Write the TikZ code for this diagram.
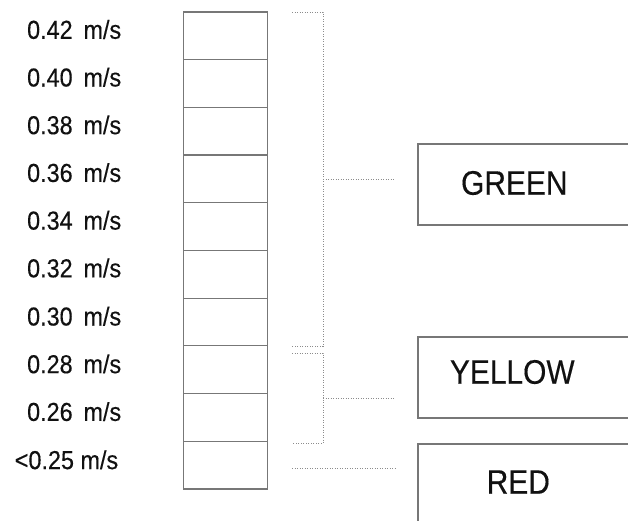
\documentclass[tikz,border=0pt]{standalone}
\usepackage{fontspec}
\setmainfont{Liberation Sans}
\newfontfamily\speedfont[FakeStretch=0.9,FakeBold=0.3]{Liberation Sans}
\newfontfamily\tagfont[FakeStretch=0.88,FakeBold=0.3]{Liberation Sans}
\usepackage{xcolor}
\usepackage{tikz}
\usetikzlibrary{positioning,calc}
\definecolor{bkink}{HTML}{111111}
\definecolor{bkline}{HTML}{777777}
\definecolor{bkdot}{HTML}{8C8C8C}
\tikzset{
  cell/.style={rectangle,draw=bkline,line width=1.2pt,fill=white,
               minimum width=84pt,minimum height=47.7pt,inner sep=0pt},
  speed/.style={anchor=base east,inner sep=0pt,text=bkink,
                font=\speedfont\fontsize{26}{30}\selectfont},
  lamp/.style={rectangle,draw=bkline,line width=1.4pt,fill=white,
               minimum width=260pt,minimum height=81pt,inner sep=0pt},
  tag/.style={inner sep=0pt,text=bkink,font=\tagfont\fontsize{34}{40}\selectfont},
  bracket/.style={draw=bkdot,line width=1pt,dash pattern=on 1pt off 1.5pt},
}

\begin{document}
\begin{tikzpicture}[x=1pt,y=-1pt]
  \clip (0,0) rectangle (628,520);
  \fill[white] (0,0) rectangle (628,520);
  % speed column
  \node[cell] (c1) at (225.5,35.8){};
  \node[cell] (c2) at (225.5,83.5){};
  \node[cell] (c3) at (225.5,131.2){};
  \node[cell] (c4) at (225.5,178.9){};
  \node[cell] (c5) at (225.5,226.6){};
  \node[cell] (c6) at (225.5,274.3){};
  \node[cell] (c7) at (225.5,322.0){};
  \node[cell] (c8) at (225.5,369.7){};
  \node[cell] (c9) at (225.5,417.4){};
  \node[cell] (c10) at (225.5,465.1){};
  \node[speed] at ([xshift=-61.5pt,yshift=-3pt]c1.west){0.42\,~m/s};
  \node[speed] at ([xshift=-61.5pt,yshift=-3pt]c2.west){0.40\,~m/s};
  \node[speed] at ([xshift=-61.5pt,yshift=-3pt]c3.west){0.38\,~m/s};
  \node[speed] at ([xshift=-61.5pt,yshift=-3pt]c4.west){0.36\,~m/s};
  \node[speed] at ([xshift=-61.5pt,yshift=-3pt]c5.west){0.34\,~m/s};
  \node[speed] at ([xshift=-61.5pt,yshift=-3pt]c6.west){0.32\,~m/s};
  \node[speed] at ([xshift=-61.5pt,yshift=-3.5pt]c7.west){0.30\,~m/s};
  \node[speed] at ([xshift=-61.5pt,yshift=-3.5pt]c8.west){0.28\,~m/s};
  \node[speed] at ([xshift=-61.5pt,yshift=-3.5pt]c9.west){0.26\,~m/s};
  \node[speed] at ([xshift=-64.5pt,yshift=-4pt]c10.west){<0.25 m/s};
  % signal boxes
  \node[lamp] (gbox) at (548,184.5){};
  \node[tag] at ([xshift=97pt,yshift=1.5pt]gbox.west){GREEN};
  \node[lamp] (ybox) at (548,377.5){};
  \node[tag] at ([xshift=95pt,yshift=5.5pt]ybox.west){YELLOW};
  \node[lamp] (rbox) at (548,484.5){};
  \node[tag] at ([xshift=101pt,yshift=2.5pt]rbox.west){RED};
  % brackets
  \coordinate (gtop) at ([xshift=24pt,yshift=-1pt]c1.north east);
  \coordinate (gbot) at ([xshift=24pt]c7.south east);
  \draw[bracket] (gtop) -- ++(31pt,0) |- (gbot);
  \draw[bracket] ($(gtop)!.5!(gbot)+(31pt,0)$) -- ($(gtop)!.5!(gbot)+(103pt,0)$);
  \coordinate (ytop) at ([xshift=24pt,yshift=-8pt]c8.north east);
  \coordinate (ybot) at ([xshift=24pt,yshift=-1.5pt]c9.south east);
  \draw[bracket] (ytop) -- ++(31pt,0) |- (ybot);
  \draw[bracket] ($(ytop)!.5!(ybot)+(31pt,0)$) -- ($(ytop)!.5!(ybot)+(103pt,0)$);
  \draw[bracket] ([xshift=24pt,yshift=-3pt]c10.east) -- ++(105pt,0);
\end{tikzpicture}
\end{document}
